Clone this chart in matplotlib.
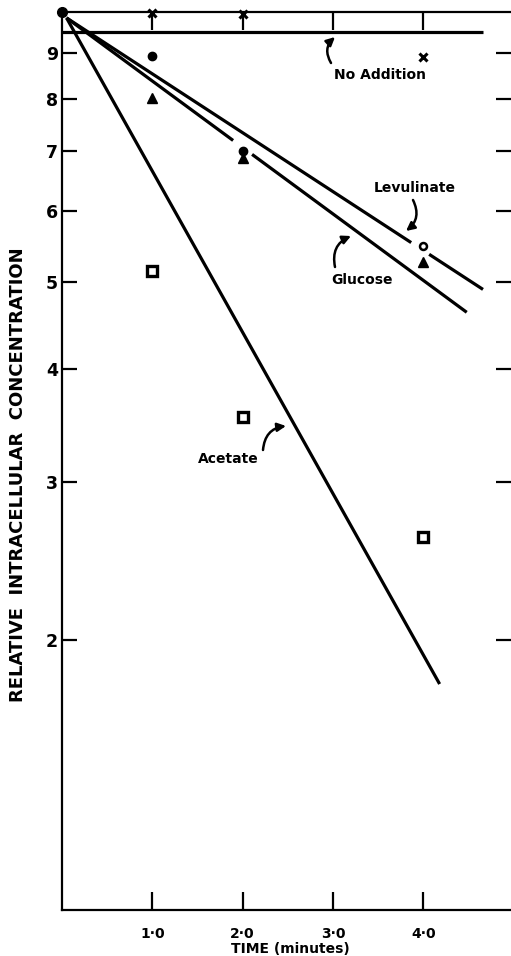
import numpy as np
import matplotlib
matplotlib.use("Agg")
from matplotlib import pyplot as plt
from matplotlib.ticker import FixedLocator, NullLocator

params = {
    'font.family': 'DejaVu Sans',
    'font.weight': 'bold',
    'axes.linewidth': 1.6,
    'xtick.major.width': 1.6,
    'ytick.major.width': 1.6,
}
matplotlib.rcParams.update(params)

# sampling times (minutes) and measured relative concentrations
times = [1.0, 2.0, 4.0]
start_value = 10.0
no_addition = [9.97, 9.95, 8.9]
levulinate = [8.93, 7.0, 5.49]
glucose = [8.02, 6.88, 5.27]
acetate = [5.15, 3.54, 2.60]

# fitted lines: (times, values) at both ends
fit_no_addition = ([0.0, 4.66], [9.5, 9.5])
fit_levulinate = ([0.05, 4.66], [9.85, 4.91])
fit_glucose = ([0.05, 4.48], [9.85, 4.63])
fit_acetate = ([0.05, 4.18], [9.85, 1.785])

y_ticks = [2, 3, 4, 5, 6, 7, 8, 9]
x_ticks = [1.0, 2.0, 3.0, 4.0]
x_ticklabels = ["1·0", "2·0", "3·0", "4·0"]

W, H = 511, 956
fig = plt.figure(figsize=(W / 100, H / 100), dpi=100)
ax = fig.add_axes([62 / W, (H - 910) / H, 1 - 62 / W, (910 - 12) / H])
ax.set_yscale('log')
ax.set_xlim(0, 4.97)
ax.set_ylim(1, 10)


def px(x, y):
    # figure pixel position measured from the top left corner
    return (x, H - y)


def frac(x, y):
    # same position as a figure fraction
    return (x / W, 1 - y / H)


def fit_line(fit, gaps=()):
    (t0, t1), (y0, y1) = fit
    l0, l1 = np.log10(y0), np.log10(y1)

    def val(t):
        return 10 ** (l0 + (l1 - l0) * (t - t0) / (t1 - t0))

    edges = [t0] + [g for gap in gaps for g in gap] + [t1]
    for a, b in zip(edges[::2], edges[1::2]):
        ax.plot([a, b], [val(a), val(b)], c='k', lw=2.3,
                solid_capstyle='butt', clip_on=False)


fit_line(fit_no_addition)
fit_line(fit_levulinate, gaps=[(3.865, 4.064)])
fit_line(fit_glucose, gaps=[(1.894, 2.104)])
fit_line(fit_acetate)

# common starting point
ax.plot([0], [start_value], 'o', ms=7, c='k', clip_on=False, zorder=6)

ax.plot(times, no_addition, 'x', ms=5.5, mew=2.2, c='k', clip_on=False)
ax.plot(times[:2], levulinate[:2], 'o', ms=6, c='k', clip_on=False)
ax.plot(times[2:], levulinate[2:], 'o', ms=5, mfc='white', mec='k', mew=1.8,
        clip_on=False)
ax.plot(times, glucose, '^', ms=7.5, c='k', clip_on=False)
ax.plot(times, acetate, 's', ms=7, mfc='white', mec='k', mew=2.4,
        clip_on=False)

ax.spines['right'].set_visible(False)

ax.yaxis.set_major_locator(FixedLocator(y_ticks))
ax.yaxis.set_minor_locator(NullLocator())
ax.set_yticklabels([str(v) for v in y_ticks])
ax.xaxis.set_major_locator(FixedLocator(x_ticks))
ax.set_xticklabels(x_ticklabels)

ax.tick_params(axis='y', which='major', direction='in', length=11,
               left=True, right=True, labelsize=12.5, pad=3)
ax.tick_params(axis='x', which='major', direction='in', length=13,
               top=True, bottom=True, labelsize=10, pad=12)

fig.text(*frac(18, 475), "RELATIVE  INTRACELLULAR  CONCENTRATION",
         rotation=90, ha='center', va='center', fontsize=13,
         fontweight='bold')
fig.text(*frac(290, 949), "TIME (minutes)", ha='center', va='center',
         fontsize=10, fontweight='bold')

arrow = dict(arrowstyle='-|>,head_length=0.5,head_width=0.25', lw=1.8,
             color='k', shrinkA=0, shrinkB=0)

labels = [
    ("No Addition", (380, 75), (331, 63), (335, 37), -0.4),
    ("Levulinate", (415, 188), (413, 200), (406, 231), -0.4),
    ("Glucose", (362, 280), (335, 267), (351, 236), -0.4),
    ("Acetate", (228, 459), (263, 450), (286, 426), -0.4),
]
for text, pos, tail, head, rad in labels:
    fig.text(*frac(*pos), text, ha='center', va='center', fontsize=10,
             fontweight='bold')
    ax.annotate("", xy=px(*head), xycoords='figure pixels',
                xytext=px(*tail), textcoords='figure pixels',
                arrowprops=dict(connectionstyle=f"arc3,rad={rad}", **arrow))

fig.savefig("out.png", dpi=100)
